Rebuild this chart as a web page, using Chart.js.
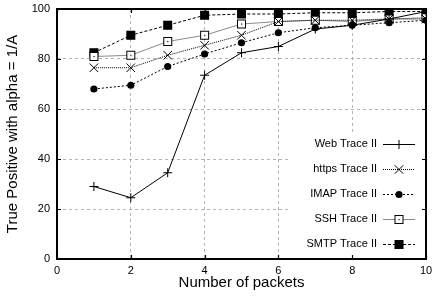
<!DOCTYPE html>
<html>
<head>
<meta charset="utf-8">
<script src="https://cdn.jsdelivr.net/npm/chart.js@4"></script>
<style>
  html, body { margin: 0; padding: 0; background: #fff; }
  #wrap { width: 433px; height: 300px; }
</style>
</head>
<body>
<div id="wrap"><canvas id="chart"></canvas></div>
<script>
const packets = [1, 2, 3, 4, 5, 6, 7, 8, 9, 10];
const webTrace = [29, 24.5, 34.5, 73.5, 82.5, 85, 92, 93.5, 96, 99];
const httpsTrace = [76.5, 76.5, 81.5, 85.5, 89.5, 95, 95.5, 95.5, 96, 96];
const imapTrace = [68, 69.5, 77, 82, 86.5, 90.5, 92.5, 93.5, 94.5, 95.5];
const sshTrace = [81, 81.5, 87, 89.5, 94, 95, 95.5, 95, 96, 96.5];
const smtpTrace = [82.5, 89.5, 93.5, 97.5, 98, 98, 98.5, 98.5, 99, 99];
const seriesNames = ['Web Trace II', 'https Trace II', 'IMAP Trace II', 'SSH Trace II', 'SMTP Trace II'];

const FONT = "'Liberation Sans', Arial, Helvetica, sans-serif";

// open square with a dot in the middle (gnuplot pt 4)
const sshMark = document.createElement('canvas');
sshMark.width = 11; sshMark.height = 11;
(function () {
  const c = sshMark.getContext('2d');
  c.fillStyle = '#fff';
  c.fillRect(1, 1, 9, 9);
  c.strokeStyle = '#000';
  c.lineWidth = 1;
  c.strokeRect(1.5, 1.5, 8, 8);
  c.fillStyle = '#000';
  c.fillRect(5, 5, 1.2, 1.2);
})();

function pts(ys) {
  return packets.map((x, i) => ({ x: x, y: ys[i] }));
}

const datasets = [
  { label: seriesNames[0], data: pts(webTrace), borderColor: '#000', borderWidth: 1,
    pointStyle: 'cross', pointRadius: 4.5, pointBorderWidth: 1, pointBorderColor: '#000' },
  { label: seriesNames[1], data: pts(httpsTrace), borderColor: '#000', borderWidth: 1, borderDash: [1, 1],
    pointStyle: 'crossRot', pointRadius: 6, pointBorderWidth: 1, pointBorderColor: '#000' },
  { label: seriesNames[2], data: pts(imapTrace), borderColor: '#000', borderWidth: 1, borderDash: [2, 2],
    pointStyle: 'circle', pointRadius: 3.6, pointBackgroundColor: '#000', pointBorderColor: '#000', pointBorderWidth: 0 },
  { label: seriesNames[3], data: pts(sshTrace), borderColor: '#8a8a8a', borderWidth: 1,
    pointStyle: sshMark, pointRadius: 5 },
  { label: seriesNames[4], data: pts(smtpTrace), borderColor: '#000', borderWidth: 1, borderDash: [3, 2],
    pointStyle: 'rect', pointRadius: 6.4, pointBackgroundColor: '#000', pointBorderColor: '#000', pointBorderWidth: 0 }
];
datasets.forEach(d => { d.fill = false; d.tension = 0; d.showLine = true; });

const framePlugin = {
  id: 'frame',
  beforeDatasetsDraw(chart) {
    const { ctx, chartArea: a, scales } = chart;
    ctx.save();
    // opaque key box
    ctx.fillStyle = '#fff';
    ctx.fillRect(289, 132, a.right - 289, a.bottom - 132);
    // border
    ctx.strokeStyle = '#000';
    ctx.lineWidth = 2;
    ctx.strokeRect(a.left, a.top, a.right - a.left, a.bottom - a.top);
    // inward ticks on all sides
    ctx.lineWidth = 1.2;
    ctx.beginPath();
    scales.x.ticks.forEach(t => {
      const px = Math.round(scales.x.getPixelForValue(t.value)) + 0.5;
      ctx.moveTo(px, a.bottom); ctx.lineTo(px, a.bottom - 4);
      ctx.moveTo(px, a.top); ctx.lineTo(px, a.top + 4);
    });
    scales.y.ticks.forEach(t => {
      const py = Math.round(scales.y.getPixelForValue(t.value)) + 0.5;
      ctx.moveTo(a.left, py); ctx.lineTo(a.left + 4, py);
      ctx.moveTo(a.right, py); ctx.lineTo(a.right - 4, py);
    });
    ctx.stroke();
    ctx.restore();
  },
  afterDatasetsDraw(chart) {
    const { ctx } = chart;
    ctx.save();
    ctx.font = '11px ' + FONT;
    ctx.textAlign = 'right';
    ctx.textBaseline = 'middle';
    chart.data.datasets.forEach((ds, i) => {
      const y = 144 + i * 25;
      ctx.fillStyle = '#000';
      ctx.fillText(ds.label, 377, y);
      ctx.strokeStyle = ds.borderColor;
      ctx.lineWidth = ds.borderWidth;
      ctx.setLineDash(ds.borderDash || []);
      ctx.beginPath();
      ctx.moveTo(383, y + 0.5); ctx.lineTo(415, y + 0.5);
      ctx.stroke();
      ctx.setLineDash([]);
      ctx.fillStyle = ds.pointBackgroundColor || '#fff';
      ctx.strokeStyle = ds.pointBorderColor || '#000';
      ctx.lineWidth = ds.pointBorderWidth === undefined ? 1 : ds.pointBorderWidth;
      Chart.helpers.drawPoint(ctx, {
        pointStyle: ds.pointStyle, radius: ds.pointRadius, rotation: 0,
        borderWidth: ds.pointBorderWidth === undefined ? 1 : ds.pointBorderWidth
      }, 399, y + 0.5);
    });
    ctx.restore();
  }
};

new Chart(document.getElementById('chart'), {
  type: 'scatter',
  data: { datasets: datasets },
  options: {
    responsive: true,
    maintainAspectRatio: false,
    animation: false,
    layout: { padding: { top: 9, right: 4, left: 0, bottom: 0 } },
    plugins: { legend: { display: false }, tooltip: { enabled: false } },
    scales: {
      x: {
        type: 'linear', min: 0, max: 10,
        afterFit: s => { s.height = 41; s.paddingLeft = 0; s.paddingRight = 0; },
        ticks: { stepSize: 2, padding: 5, color: '#000', font: { family: FONT, size: 11 } },
        grid: { color: '#b4b4b4', lineWidth: 1, drawTicks: false },
        border: { display: false, dash: [3, 3] },
        title: { display: true, text: 'Number of packets', color: '#000',
                 font: { family: FONT, size: 15 }, padding: { top: 0, bottom: 8 } }
      },
      y: {
        type: 'linear', min: 0, max: 100,
        afterFit: s => { s.width = 57; s.paddingTop = 0; s.paddingBottom = 0; },
        ticks: { stepSize: 20, padding: 7, color: '#000', font: { family: FONT, size: 11 } },
        grid: { color: '#b4b4b4', lineWidth: 1, drawTicks: false },
        border: { display: false, dash: [3, 3] },
        title: { display: true, text: 'True Positive with alpha = 1/A', color: '#000',
                 font: { family: FONT, size: 15 }, padding: { top: 4, bottom: 0 } }
      }
    }
  },
  plugins: [framePlugin]
});
</script>
</body>
</html>
